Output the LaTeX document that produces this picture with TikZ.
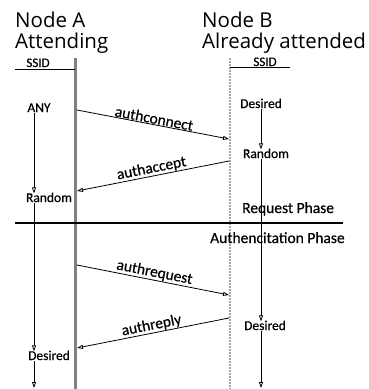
\documentclass[tikz,border=0pt]{standalone}
\usepackage{fontspec}
\setmainfont{Carlito}[BoldFont=Carlito, BoldFeatures={FakeBold=0.5}]
\newfontfamily\ttlfont{Open Sans}
\usetikzlibrary{arrows.meta}
\tikzset{
  ttl/.style    ={font=\ttlfont\fontsize{20.5}{22}\selectfont, anchor=base west, inner sep=0pt},
  ssid/.style   ={font=\bfseries\fontsize{13}{14}\selectfont, anchor=base, inner sep=0pt},
  stt/.style    ={font=\bfseries\fontsize{13.5}{15}\selectfont, anchor=base, inner sep=1pt},
  phase/.style  ={font=\bfseries\fontsize{15.5}{17}\selectfont, anchor=base west, inner sep=0pt},
  mlbl/.style   ={font=\bfseries\fontsize{15.5}{17}\selectfont, inner sep=0.5pt},
  lifeA/.style  ={line width=3pt, black!50},
  lifeB/.style  ={line width=2pt, black!35, densely dotted},
  msg/.style    ={-{Triangle[open, length=6pt, width=4pt]}, line width=0.8pt},
  stchg/.style  ={-{Triangle[open, length=6pt, width=4pt]}, line width=0.8pt},
  divider/.style={line width=1.6pt},
}

\begin{document}
\begin{tikzpicture}[x=1pt, y=-1pt]
  \useasboundingbox (0,0) rectangle (368,389);
  % headings
  \node[ttl] (hA1) at (15,27)  {Node A};
  \node[ttl] (hA2) at (15,48)  {Attending};
  \node[ttl] (hB1) at (202,27) {Node B};
  \node[ttl] (hB2) at (202,48) {Already attended};
  % lifelines
  \coordinate (topA) at (75,58);  \coordinate (botA) at (75,389);
  \coordinate (topB) at (230,58); \coordinate (botB) at (230,389);
  \draw[lifeA] (topA) -- (botA);
  \draw[lifeB] (topB) -- (botB);
  % ssid columns
  \node[ssid] (ssA) at (38,67)  {SSID};
  \node[ssid] (ssB) at (265,66) {SSID};
  \coordinate (ulA) at (15,69);  \coordinate (ulB) at (290,67);
  \draw (ulA) -- (ulA -| topA);
  \draw (ulB -| topB) -- (ulB);
  % states of A
  \coordinate (colA) at (34,0);
  \node[stt] (anyA)  at (39,112) {ANY};
  \node[stt] (randA) at (49,202) {Random};
  \node[stt] (desA)  at (49,360) {Desired};
  \coordinate (endA) at (34,388);
  \draw[stchg] (anyA.south -| colA) -- ([yshift=-2pt]randA.north -| colA);
  \draw[stchg] (randA.south -| colA) -- ([yshift=-2pt]desA.north -| colA);
  \draw[stchg] (desA.south -| colA) -- (endA);
  % states of B
  \coordinate (colB) at (261,0);
  \node[stt] (desB)  at (261,108) {Desired};
  \node[stt] (randB) at (266,158) {Random};
  \node[stt] (desB2) at (265,330) {Desired};
  \coordinate (endB) at (261,388);
  \draw[stchg] (desB.south -| colB) -- ([yshift=-2pt]randB.north -| colB);
  \draw[stchg] (randB.south -| colB) -- ([yshift=-2pt]desB2.north -| colB);
  \draw[stchg] (desB2.south -| colB) -- (endB);
  % phases
  \coordinate (dvL) at (15,223); \coordinate (dvR) at (343,223);
  \draw[divider] (dvL) -- (dvR);
  \node[phase] (reqP) at (242,213) {Request Phase};
  \node[phase] (autP) at (210,243) {Authencitation Phase};
  % messages
  \coordinate (m1s) at (77,110);  \coordinate (m1e) at (229,139);
  \coordinate (m2s) at (229,161); \coordinate (m2e) at (77,191);
  \coordinate (m3s) at (77,265);  \coordinate (m3e) at (229,295);
  \coordinate (m4s) at (229,318); \coordinate (m4e) at (77,348);
  \draw[msg] (m1s) -- node[mlbl, above, sloped] {authconnect} (m1e);
  \draw[msg] (m2s) -- node[mlbl, above, sloped] {authaccept} (m2e);
  \draw[msg] (m3s) -- node[mlbl, above, sloped] {authrequest} (m3e);
  \draw[msg] (m4s) -- node[mlbl, above, sloped] {authreply} (m4e);
\end{tikzpicture}
\end{document}
